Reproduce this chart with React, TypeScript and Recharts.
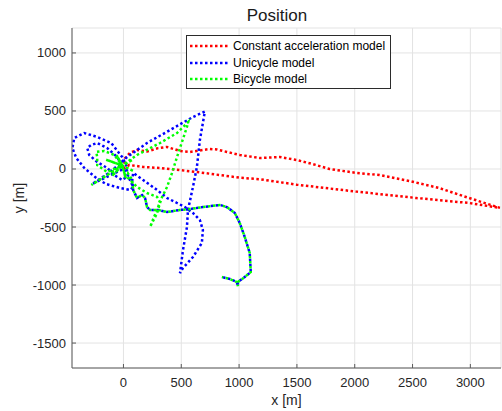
import React from 'react';
import { LineChart, Line, XAxis, YAxis, CartesianGrid, Legend, Label } from 'recharts';

const FONT = '"Liberation Sans", Arial, Helvetica, sans-serif';

// series names and colours, same order as the legend
const seriesNames = ['Constant acceleration model', 'Unicycle model', 'Bicycle model'];
const seriesColors = ['#ff0000', '#0000ff', '#00ff00'];
const dashOffsets = [0, 0, 2.5];

const xTicks = [0, 500, 1000, 1500, 2000, 2500, 3000];
const yTicks = [-1500, -1000, -500, 0, 500, 1000];

// constant acceleration model: out along the lower route, back along the upper one
const redPath = [
  { x: 0, y: 0 }, { x: 50, y: 35 }, { x: 170, y: 17 }, { x: 316, y: 9 }, { x: 635, y: -26 },
  { x: 1006, y: -75 }, { x: 1178, y: -88 }, { x: 1497, y: -135 }, { x: 2015, y: -195 },
  { x: 2532, y: -250 }, { x: 2989, y: -293 }, { x: 3255, y: -335 },
  { x: 2989, y: -250 }, { x: 2730, y: -164 }, { x: 2472, y: -103 }, { x: 2213, y: -52 },
  { x: 2015, y: -34 }, { x: 1782, y: 0 }, { x: 1635, y: 43 }, { x: 1497, y: 78 },
  { x: 1351, y: 103 }, { x: 1178, y: 95 }, { x: 1006, y: 121 }, { x: 894, y: 147 },
  { x: 808, y: 168 }, { x: 747, y: 172 }, { x: 687, y: 164 }, { x: 575, y: 147 },
  { x: 489, y: 155 }, { x: 377, y: 190 }, { x: 300, y: 180 }, { x: 204, y: 150 },
  { x: 118, y: 164 }, { x: 58, y: 140 }, { x: 15, y: 95 }, { x: 0, y: 0 },
];

// stretch that the unicycle and bicycle models share
const sharedTrack = [
  { x: 76, y: -95 }, { x: 84, y: -181 }, { x: 118, y: -250 }, { x: 161, y: -224 },
  { x: 187, y: -250 }, { x: 204, y: -328 }, { x: 230, y: -353 }, { x: 299, y: -353 },
  { x: 377, y: -371 }, { x: 489, y: -353 }, { x: 575, y: -345 }, { x: 687, y: -328 },
  { x: 834, y: -310 }, { x: 894, y: -328 }, { x: 963, y: -379 }, { x: 1006, y: -466 },
  { x: 1049, y: -586 }, { x: 1092, y: -724 }, { x: 1101, y: -888 }, { x: 1049, y: -931 },
  { x: 989, y: -974 }, { x: 990, y: -1009 }, { x: 980, y: -974 }, { x: 920, y: -948 },
  { x: 851, y: -931 },
];

const bluePath = [
  { x: 0, y: 0 }, { x: -54, y: 103 }, { x: -141, y: 181 }, { x: -227, y: 224 }, { x: -278, y: 207 },
  { x: -313, y: 181 }, { x: -296, y: 121 }, { x: -227, y: 60 }, { x: -141, y: 9 }, { x: -80, y: -52 },
  { x: -11, y: -95 }, { x: 40, y: -60 }, { x: 20, y: 40 }, { x: -11, y: 103 }, { x: -106, y: 224 },
  { x: -227, y: 276 }, { x: -339, y: 310 }, { x: -425, y: 267 }, { x: -442, y: 181 }, { x: -408, y: 95 },
  { x: -339, y: 9 }, { x: -235, y: -78 }, { x: -150, y: -130 }, { x: -28, y: -164 }, { x: 58, y: -181 },
  { x: 84, y: -155 }, { x: 30, y: -40 }, { x: 0, y: 0 }, { x: -270, y: -129 }, { x: -115, y: -26 },
  { x: 32, y: 103 }, { x: 204, y: 224 }, { x: 403, y: 336 }, { x: 601, y: 448 }, { x: 704, y: 495 },
  { x: 661, y: 250 }, { x: 635, y: 17 }, { x: 601, y: -155 }, { x: 558, y: -353 }, { x: 549, y: -500 },
  { x: 515, y: -698 }, { x: 489, y: -897 }, { x: 515, y: -853 }, { x: 601, y: -759 }, { x: 678, y: -638 },
  { x: 687, y: -526 }, { x: 661, y: -440 }, { x: 601, y: -379 }, { x: 532, y: -328 }, { x: 463, y: -293 },
  { x: 377, y: -250 }, { x: 291, y: -181 }, { x: 170, y: -95 }, { x: 84, y: -34 },
  ...sharedTrack,
];

const greenPath = [
  { x: 0, y: 0 }, { x: -10, y: 30 }, { x: -80, y: 121 }, { x: -166, y: 155 }, { x: -235, y: 147 },
  { x: -227, y: 103 }, { x: -227, y: 34 }, { x: -141, y: -26 }, { x: -10, y: 30 }, { x: -278, y: -138 },
  { x: -10, y: 30 }, { x: -60, y: 120 }, { x: -10, y: 30 }, { x: 80, y: 80 }, { x: -10, y: 30 },
  { x: 90, y: -20 }, { x: -10, y: 30 }, { x: 20, y: -80 }, { x: -10, y: 30 }, { x: -100, y: -60 },
  { x: -10, y: 30 }, { x: -150, y: 80 }, { x: -10, y: 30 }, { x: 118, y: 121 }, { x: 316, y: 224 },
  { x: 463, y: 310 }, { x: 560, y: 405 }, { x: 549, y: 362 }, { x: 463, y: 103 }, { x: 420, y: -34 },
  { x: 377, y: -155 }, { x: 334, y: -241 }, { x: 316, y: -293 }, { x: 291, y: -379 }, { x: 230, y: -500 },
  { x: 316, y: -285 }, { x: 291, y: -241 }, { x: 204, y: -207 }, { x: 118, y: -155 }, { x: 32, y: -69 },
  { x: 40, y: -40 },
  ...sharedTrack,
];

const seriesData = [redPath, bluePath, greenPath];

const XTick = (props: any) => {
  const { x, y, payload } = props;
  return (
    <g>
      <line x1={x} x2={x} y1={y} y2={y - 4} stroke="#5a5a5a" />
      <text x={x} y={y + 19} textAnchor="middle" fontSize={13} fill="#262626" fontFamily={FONT}>
        {payload.value}
      </text>
    </g>
  );
};

const YTick = (props: any) => {
  const { x, y, payload } = props;
  return (
    <g>
      <line x1={x} x2={x + 4} y1={y} y2={y} stroke="#5a5a5a" />
      <text x={x - 6} y={y + 4.5} textAnchor="end" fontSize={13} fill="#262626" fontFamily={FONT}>
        {payload.value}
      </text>
    </g>
  );
};

const LegendBox = () => (
  <div
    style={{
      width: 205, height: 54, boxSizing: 'border-box', border: '1px solid #2b2b2b',
      background: '#fff', paddingTop: 1.5, fontFamily: FONT, fontSize: 12, color: '#000',
    }}
  >
    {seriesNames.map((name, i) => (
      <div key={name} style={{ display: 'flex', alignItems: 'center', height: 16.7 }}>
        <svg width={46} height={10} style={{ flex: 'none' }}>
          <line x1={3} x2={42} y1={5} y2={5} stroke={seriesColors[i]} strokeWidth={2.5} strokeDasharray="2.5 2.5" />
        </svg>
        <span style={{ whiteSpace: 'nowrap' }}>{name}</span>
      </div>
    ))}
  </div>
);

export default function App() {
  return (
    <div style={{ position: 'absolute', left: 0, top: 0, width: 502, height: 411, background: '#fff' }}>
      <div
        style={{
          position: 'absolute', left: 0, top: 6, width: 554, textAlign: 'center',
          fontFamily: FONT, fontSize: 17, lineHeight: '20px', color: '#1a1a1a',
        }}
      >
        Position
      </div>
      <LineChart width={502} height={411} margin={{ top: 28, right: 1, bottom: 0, left: 0 }}>
        <CartesianGrid stroke="#e3e3e3" />
        <XAxis
          type="number"
          dataKey="x"
          domain={[-445, 3265]}
          allowDataOverflow
          ticks={xTicks}
          interval={0}
          height={43}
          tickSize={0}
          tickMargin={0}
          tick={<XTick />}
          axisLine={{ stroke: '#5a5a5a' }}
        >
          <Label value="x [m]" position="insideBottom" offset={6} style={{ fontSize: 14, fill: '#262626', fontFamily: FONT }} />
        </XAxis>
        <YAxis
          type="number"
          dataKey="y"
          domain={[-1715, 1215]}
          allowDataOverflow
          ticks={yTicks}
          interval={0}
          width={72}
          tickSize={0}
          tickMargin={0}
          tick={<YTick />}
          axisLine={{ stroke: '#5a5a5a' }}
        >
          <Label
            content={() => (
              <text x={24} y={198} transform="rotate(-90 24 198)" textAnchor="middle" fontSize={14} fill="#262626" fontFamily={FONT}>
                y [m]
              </text>
            )}
          />
        </YAxis>
        <Legend
          layout="vertical"
          align="center"
          verticalAlign="middle"
          wrapperStyle={{ left: 186, top: 35, width: 205, height: 54 }}
          content={() => <LegendBox />}
        />
        {seriesData.map((d, i) => (
          <Line
            key={seriesNames[i]}
            data={d}
            dataKey="y"
            name={seriesNames[i]}
            type="linear"
            stroke={seriesColors[i]}
            strokeWidth={2.5}
            strokeDasharray="2.5 2.5"
            strokeDashoffset={dashOffsets[i]}
            dot={false}
            activeDot={false}
            isAnimationActive={false}
          />
        ))}
      </LineChart>
    </div>
  );
}
